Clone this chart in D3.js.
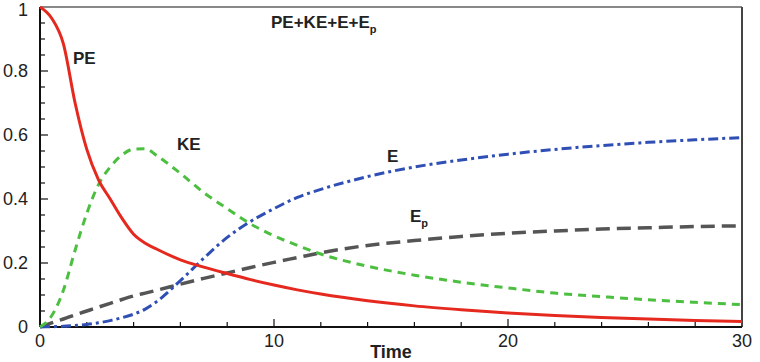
<!DOCTYPE html>
<html>
<head>
<meta charset="utf-8">
<script src="https://cdn.jsdelivr.net/npm/d3@7"></script>
<style>
  body { margin: 0; background: #fff; }
  svg text { font-family: "Liberation Sans", Arial, Helvetica, sans-serif; }
</style>
</head>
<body>
<svg width="760" height="362"></svg>
<script>
// time samples and energy curves
const time = [0, 0.5, 1, 1.5, 2, 2.5, 3, 3.5, 4, 4.5, 5, 6, 7, 8, 9, 10, 11, 12, 14, 16, 18, 20, 22, 24, 26, 28, 30];
const pe = [1.0, 0.965, 0.885, 0.70, 0.555, 0.46, 0.40, 0.34, 0.29, 0.262, 0.243, 0.21, 0.187, 0.167, 0.148, 0.131, 0.116, 0.103, 0.082, 0.066, 0.054, 0.044, 0.036, 0.03, 0.025, 0.02, 0.017];
const ke = [0, 0.035, 0.115, 0.24, 0.355, 0.445, 0.5, 0.537, 0.556, 0.557, 0.535, 0.48, 0.42, 0.37, 0.322, 0.285, 0.255, 0.228, 0.19, 0.162, 0.14, 0.122, 0.106, 0.095, 0.085, 0.077, 0.07];
const e = [0, 0.001, 0.002, 0.005, 0.008, 0.013, 0.02, 0.029, 0.04, 0.056, 0.08, 0.145, 0.215, 0.28, 0.33, 0.37, 0.405, 0.43, 0.47, 0.5, 0.522, 0.54, 0.555, 0.567, 0.577, 0.585, 0.592];
const ep = [0, 0.013, 0.025, 0.038, 0.05, 0.062, 0.074, 0.086, 0.097, 0.106, 0.115, 0.134, 0.152, 0.169, 0.186, 0.202, 0.217, 0.232, 0.255, 0.27, 0.283, 0.293, 0.3, 0.306, 0.31, 0.314, 0.316];

const xTicks = [0, 10, 20, 30];
const yTicks = [0, 0.2, 0.4, 0.6, 0.8, 1];

const svg = d3.select("svg");
const margin = { top: 7, left: 40 };
const W = 702, H = 320;

const x = d3.scaleLinear().domain([0, 30]).range([0, W]);
const y = d3.scaleLinear().domain([0, 1]).range([H, 0]);

const g = svg.append("g").attr("transform", `translate(${margin.left},${margin.top})`);

// minor ticks (inward)
g.append("g").selectAll("line")
  .data(d3.range(0, 30.01, 2))
  .enter().append("line")
  .attr("x1", d => x(d)).attr("x2", d => x(d))
  .attr("y1", H).attr("y2", d => H - (d % 10 === 0 ? 8 : 5))
  .attr("stroke", "#111").attr("stroke-width", 1.2);

g.append("g").selectAll("line")
  .data(d3.range(0, 1.001, 0.05))
  .enter().append("line")
  .attr("y1", d => y(d)).attr("y2", d => y(d))
  .attr("x1", 0).attr("x2", (d, i) => i % 4 === 0 ? 8 : 5)
  .attr("stroke", "#111").attr("stroke-width", 1.2);

// frame
g.append("line").attr("x1", 0).attr("x2", W).attr("y1", 0).attr("y2", 0)
  .attr("stroke", "#888").attr("stroke-width", 2);
g.append("line").attr("x1", W).attr("x2", W).attr("y1", 0).attr("y2", H)
  .attr("stroke", "#444").attr("stroke-width", 2);
g.append("line").attr("x1", 0).attr("x2", W).attr("y1", H).attr("y2", H)
  .attr("stroke", "#111").attr("stroke-width", 2);
g.append("line").attr("x1", 0).attr("x2", 0).attr("y1", 0).attr("y2", H)
  .attr("stroke", "#111").attr("stroke-width", 2);

// tick labels
g.selectAll(".xl").data(xTicks).enter().append("text")
  .attr("x", d => x(d)).attr("y", H + 20)
  .attr("text-anchor", "middle").attr("font-size", 18).attr("fill", "#222")
  .text(d => d);

g.selectAll(".yl").data(yTicks).enter().append("text")
  .attr("x", -12).attr("y", d => Math.max(y(d) + 6, 9))
  .attr("text-anchor", "end").attr("font-size", 18).attr("fill", "#222")
  .text(d => d);

svg.append("text").attr("x", 391).attr("y", 358)
  .attr("text-anchor", "middle").attr("font-size", 18).attr("font-weight", "bold")
  .attr("fill", "#222").text("Time");

// curves
const series = [
  { vals: ep, color: "#555555", w: 3.5, dash: "14,7" },
  { vals: e, color: "#2f4fb5", w: 3, dash: "10,4,3,4" },
  { vals: ke, color: "#4cbf40", w: 3, dash: "8,6" },
  { vals: pe, color: "#e5291f", w: 3, dash: null }
];

const line = d3.line().curve(d3.curveMonotoneX);

g.selectAll(".curve").data(series).enter().append("path")
  .attr("class", "curve")
  .attr("fill", "none")
  .attr("stroke", d => d.color)
  .attr("stroke-width", d => d.w)
  .attr("stroke-dasharray", d => d.dash)
  .attr("d", d => line(time.map((t, i) => [x(t), y(d.vals[i])])));

// curve labels
function label(px, py, main, sub) {
  const t = svg.append("text").attr("x", px).attr("y", py)
    .attr("font-size", 17).attr("font-weight", "bold").attr("fill", "#222");
  t.append("tspan").text(main);
  if (sub) t.append("tspan").attr("font-size", 11).attr("dy", 5).text(sub);
}
label(73, 64, "PE");
label(177, 150, "KE");
label(387, 162, "E");
label(410, 222, "E", "p");
label(271, 28, "PE+KE+E+E", "p");
</script>
</body>
</html>
